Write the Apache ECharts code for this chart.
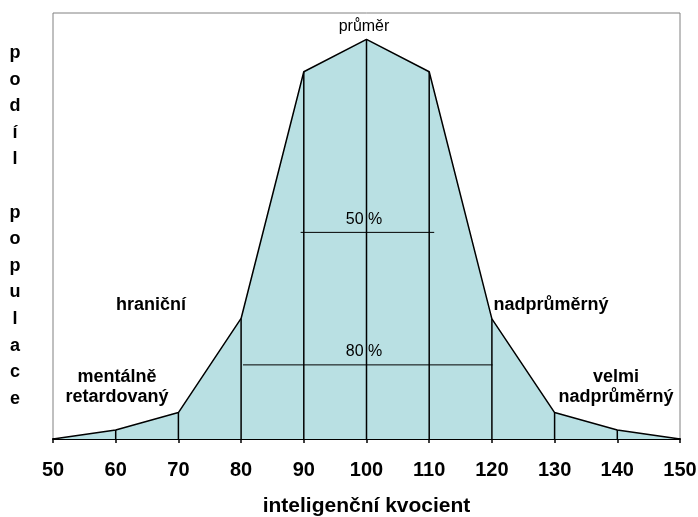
<!DOCTYPE html>
<html>
<head>
<meta charset="utf-8">
<script src="https://cdn.jsdelivr.net/npm/echarts@6/dist/echarts.min.js"></script>
<style>
  html, body { margin: 0; padding: 0; background: #fff; }
  #chart { width: 698px; height: 517px; }
</style>
</head>
<body>
<div id="chart"></div>
<script>
  // IQ values on x axis and share of population (relative height, 0-100)
  let iq = [50, 60, 70, 80, 90, 100, 110, 120, 130, 140, 150]
  let share = [0, 2.1, 6.2, 28.3, 86.2, 93.8, 86.2, 28.2, 6.2, 2.1, 0]
  // horizontal range lines: [fromIq, toIq, level]
  let line50 = [89.5, 110.8, 48.5]
  let line80 = [80.3, 120.1, 17.4]

  let chart = echarts.init(document.getElementById('chart'))
  let colors = ['#b9e0e3', '#000000', '#808080']
  let font = 'Liberation Sans, Arial, sans-serif'

  let curve = iq.map(function (v, i) { return [v, share[i]] })
  let inner = curve.filter(function (p) { return p[1] > 0 })

  function label(x, y, text, bold) {
    return {
      type: 'text', position: [x, y], z: 20,
      style: {
        text: text, fill: '#000',
        font: (bold ? 'bold 18px ' : '16px ') + font,
        lineHeight: bold ? 20 : 18,
        textAlign: 'center', textVerticalAlign: 'middle'
      }
    }
  }

  let option = {
    animation: false,
    grid: {
      left: 53, right: 18, top: 13, bottom: 78,
      outerBoundsMode: 'none',
      show: true, borderColor: colors[2], borderWidth: 1
    },
    xAxis: {
      type: 'value', min: 50, max: 150, interval: 10,
      axisLine: { lineStyle: { color: colors[1], width: 2 } },
      axisTick: { show: true, length: 4, lineStyle: { color: colors[1], width: 1.5 } },
      axisLabel: { color: '#000', fontFamily: font, fontWeight: 'bold', fontSize: 20, margin: 21 },
      splitLine: { show: false },
      name: 'inteligenční kvocient',
      nameLocation: 'middle',
      nameGap: 57,
      nameTextStyle: { color: '#000', fontFamily: font, fontWeight: 'bold', fontSize: 21 }
    },
    yAxis: {
      type: 'value', min: 0, max: 100,
      axisLine: { show: false }, axisTick: { show: false },
      axisLabel: { show: false }, splitLine: { show: false }
    },
    series: [
      {
        type: 'line', data: curve, symbol: 'none',
        lineStyle: { color: colors[1], width: 1.5 },
        areaStyle: { color: colors[0], opacity: 1 },
        z: 2
      },
      {
        type: 'bar', data: inner, barWidth: 1.5,
        itemStyle: { color: colors[1] },
        z: 3
      },
      {
        type: 'line', symbol: 'none',
        data: [[line50[0], line50[2]], [line50[1], line50[2]]],
        lineStyle: { color: colors[1], width: 1 }, z: 4
      },
      {
        type: 'line', symbol: 'none',
        data: [[line80[0], line80[2]], [line80[1], line80[2]]],
        lineStyle: { color: colors[1], width: 1 }, z: 4
      }
    ],
    graphic: [
      {
        type: 'text', position: [15, 226], z: 20,
        style: {
          text: 'p\no\nd\ní\nl\n\np\no\np\nu\nl\na\nc\ne',
          fill: '#000', font: 'bold 18px ' + font, lineHeight: 26.6,
          textAlign: 'center', textVerticalAlign: 'middle'
        }
      },
      label(364, 27, 'průměr', false),
      label(364, 220, '50 %', false),
      label(364, 352, '80 %', false),
      label(151, 305, 'hraniční', true),
      label(551, 305, 'nadprůměrný', true),
      label(117, 387, 'mentálně\nretardovaný', true),
      label(616, 387, 'velmi\nnadprůměrný', true)
    ]
  }

  chart.setOption(option)
</script>
</body>
</html>
